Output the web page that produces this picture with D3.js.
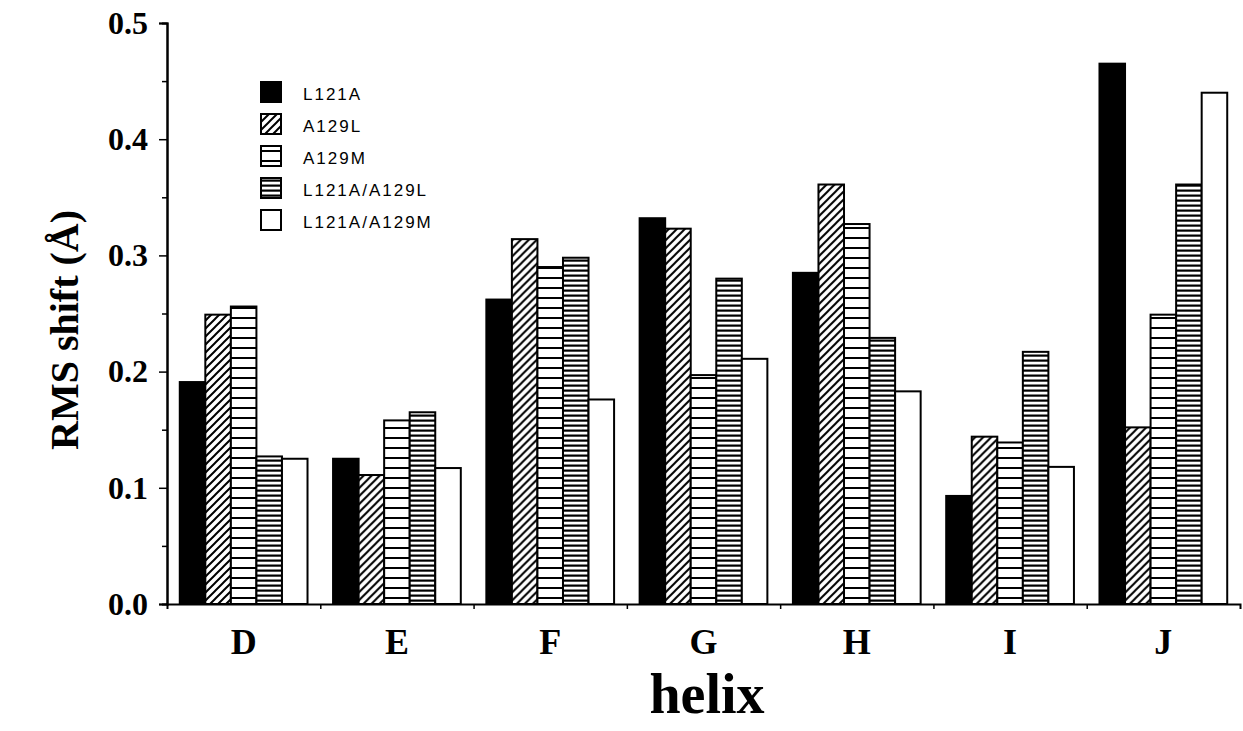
<!DOCTYPE html>
<html>
<head>
<meta charset="utf-8">
<script src="https://cdn.jsdelivr.net/npm/d3@7"></script>
<style>
  body { margin: 0; background: #fff; }
  .serif { font-family: "Liberation Serif", "Times New Roman", serif; font-weight: bold; }
  .legendText { font-family: "Liberation Sans", Arial, sans-serif; font-size: 17px; letter-spacing: 2px; }
</style>
</head>
<body>
<div id="chart"></div>
<script>
const helices = ["D", "E", "F", "G", "H", "I", "J"];
const mutants = ["L121A", "A129L", "A129M", "L121A/A129L", "L121A/A129M"];

const L121A = [0.191, 0.125, 0.262, 0.332, 0.285, 0.093, 0.465];
const A129L = [0.249, 0.111, 0.314, 0.323, 0.361, 0.144, 0.152];
const A129M = [0.256, 0.158, 0.290, 0.197, 0.327, 0.139, 0.249];
const L121A_A129L = [0.127, 0.165, 0.298, 0.280, 0.229, 0.217, 0.361];
const L121A_A129M = [0.125, 0.117, 0.176, 0.211, 0.183, 0.118, 0.440];

const yTicks = [0.0, 0.1, 0.2, 0.3, 0.4, 0.5];
const yMinorTicks = [0.05, 0.15, 0.25, 0.35, 0.45];

const seriesValues = [L121A, A129L, A129M, L121A_A129L, L121A_A129M];

const svgWidth = 1243;
const svgHeight = 731;

const margin = { top: 23, right: 3, bottom: 127, left: 167 };
const width = svgWidth - margin.left - margin.right;
const height = svgHeight - margin.top - margin.bottom;

const svg = d3.select("#chart")
  .append("svg")
  .attr("width", svgWidth)
  .attr("height", svgHeight);

// fill patterns
const defs = svg.append("defs");

defs.append("pattern")
  .attr("id", "hatch")
  .attr("patternUnits", "userSpaceOnUse")
  .attr("width", 8)
  .attr("height", 8)
  .call(p => {
    p.append("rect").attr("width", 8).attr("height", 8).attr("fill", "#fff");
    p.append("path")
      .attr("d", "M-2,2 L2,-2 M0,8 L8,0 M6,10 L10,6")
      .attr("stroke", "#000")
      .attr("stroke-width", 2);
  });

defs.append("pattern")
  .attr("id", "wide")
  .attr("patternUnits", "userSpaceOnUse")
  .attr("width", 10)
  .attr("height", 10)
  .call(p => {
    p.append("rect").attr("width", 10).attr("height", 10).attr("fill", "#fff");
    p.append("rect").attr("y", 4).attr("width", 10).attr("height", 2).attr("fill", "#000");
  });

defs.append("pattern")
  .attr("id", "dense")
  .attr("patternUnits", "userSpaceOnUse")
  .attr("width", 5)
  .attr("height", 5)
  .call(p => {
    p.append("rect").attr("width", 5).attr("height", 5).attr("fill", "#fff");
    p.append("rect").attr("y", 1.5).attr("width", 5).attr("height", 2.2).attr("fill", "#000");
  });

const fills = ["#000", "url(#hatch)", "url(#wide)", "url(#dense)", "#fff"];

const chartGroup = svg.append("g")
  .attr("transform", `translate(${margin.left}, ${margin.top})`);

const x0 = d3.scaleBand()
  .domain(helices)
  .range([0, width]);

const x1 = d3.scaleBand()
  .domain(mutants)
  .range([0, x0.bandwidth()])
  .paddingOuter(0.5);

const yScale = d3.scaleLinear()
  .domain([0, 0.5])
  .range([height, 0]);

const xBound = d3.scaleLinear()
  .domain([0, helices.length])
  .range([0, width]);

// bars
const groups = chartGroup.selectAll(".group")
  .data(helices)
  .enter()
  .append("g")
  .attr("class", "group")
  .attr("transform", d => `translate(${x0(d)}, 0)`);

groups.selectAll("rect")
  .data((h, i) => mutants.map((m, j) => ({ mutant: m, value: seriesValues[j][i], fill: fills[j] })))
  .enter()
  .append("rect")
  .attr("x", d => x1(d.mutant))
  .attr("y", d => yScale(d.value))
  .attr("width", x1.bandwidth())
  .attr("height", d => height - yScale(d.value))
  .attr("fill", d => d.fill)
  .attr("stroke", "#000")
  .attr("stroke-width", 2);

// y axis
const leftAxis = d3.axisLeft(yScale)
  .tickValues(yTicks)
  .tickFormat(d3.format(".1f"))
  .tickSize(8)
  .tickPadding(11);

const yAxisG = chartGroup.append("g")
  .call(leftAxis);

yAxisG.selectAll("text")
  .attr("class", "serif")
  .attr("font-size", 32)
  .attr("fill", "#000");

chartGroup.append("g")
  .call(d3.axisLeft(yScale).tickValues(yMinorTicks).tickSize(5).tickFormat(""));

// x axis
const xAxisG = chartGroup.append("g")
  .attr("transform", `translate(0, ${height})`)
  .call(d3.axisBottom(xBound).tickValues(d3.range(1, helices.length)).tickSize(5).tickFormat(""));

chartGroup.selectAll(".domain").attr("stroke-width", 2);
chartGroup.selectAll(".tick line").attr("stroke-width", 1.5);

chartGroup.selectAll(".helixLabel")
  .data(helices)
  .enter()
  .append("text")
  .attr("class", "serif helixLabel")
  .attr("x", d => x0(d) + x0.bandwidth() / 2)
  .attr("y", height + 50)
  .attr("text-anchor", "middle")
  .attr("font-size", 36)
  .text(d => d);

// axis titles
svg.append("text")
  .attr("class", "serif")
  .attr("transform", "translate(78, 330) rotate(-90)")
  .attr("text-anchor", "middle")
  .attr("font-size", 40)
  .text("RMS shift (Å)");

svg.append("text")
  .attr("class", "serif")
  .attr("x", 707)
  .attr("y", 713)
  .attr("text-anchor", "middle")
  .attr("font-size", 56)
  .text("helix");

// legend
const legend = svg.append("g")
  .attr("transform", "translate(261, 82)");

const legendRows = legend.selectAll(".legendRow")
  .data(mutants)
  .enter()
  .append("g")
  .attr("class", "legendRow")
  .attr("transform", (d, i) => `translate(0, ${i * 32})`);

legendRows.append("rect")
  .attr("width", 20)
  .attr("height", 20)
  .attr("fill", (d, i) => fills[i])
  .attr("stroke", "#000")
  .attr("stroke-width", 2);

legendRows.append("text")
  .attr("class", "legendText")
  .attr("x", 42)
  .attr("y", 18)
  .text(d => d);
</script>
</body>
</html>
